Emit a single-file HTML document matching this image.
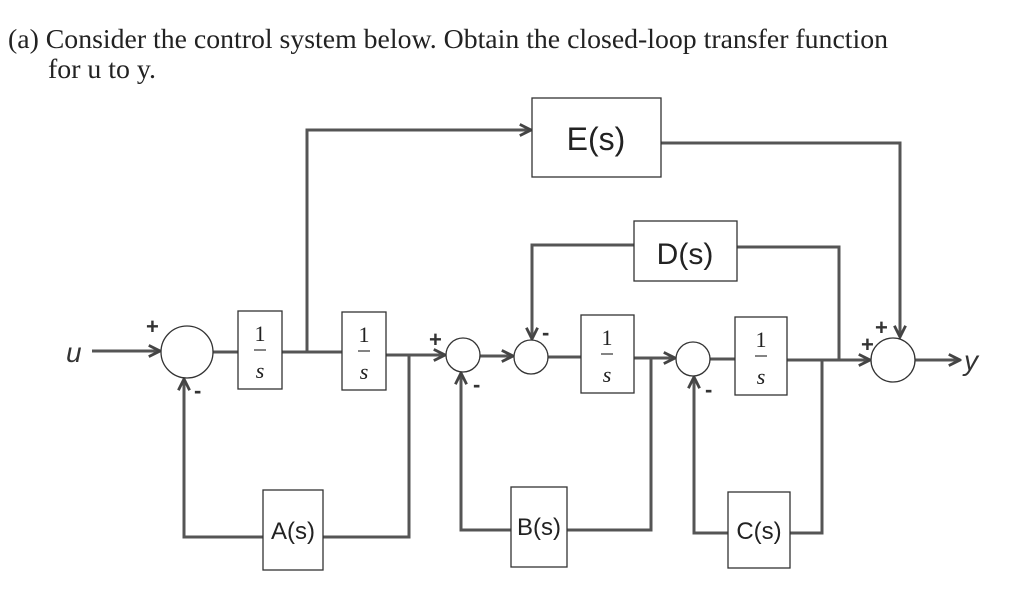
<!DOCTYPE html>
<html><head><meta charset="utf-8"><style>html,body{margin:0;padding:0;background:#fff}svg{display:block}</style></head>
<body>
<svg width="1024" height="599" viewBox="0 0 1024 599" xmlns="http://www.w3.org/2000/svg">
<defs>
<marker id="a" viewBox="0 0 10 10" refX="9" refY="5" markerWidth="14" markerHeight="14" orient="auto-start-reverse" markerUnits="userSpaceOnUse"><path d="M1,1 L9,5 L1,9" fill="none" stroke="#444" stroke-width="2"/></marker>
</defs>
<style>
.t{font-family:"Liberation Serif",serif;font-size:27px;fill:#222}
.l{stroke:#555;stroke-width:3;fill:none}
.b{stroke:#333;stroke-width:1.3;fill:#fff}
.c{stroke:#333;stroke-width:1.3;fill:#fff}
.s{font-family:"Liberation Sans",sans-serif;fill:#222}
.f{font-family:"Liberation Serif",serif;font-size:22px;fill:#222;text-anchor:middle}
.p{font-family:"Liberation Sans",sans-serif;font-size:22px;font-weight:bold;fill:#333}
</style>
<text class="t" x="8" y="48" textLength="880" lengthAdjust="spacingAndGlyphs">(a) Consider the control system below. Obtain the closed-loop transfer function</text>
<text class="t" x="48" y="78" textLength="108" lengthAdjust="spacingAndGlyphs">for u to y.</text>

<line class="l" x1="92" y1="351" x2="160" y2="351" marker-end="url(#a)"/>
<line class="l" x1="213" y1="352" x2="238" y2="352"/>
<line class="l" x1="282" y1="352" x2="342" y2="352"/>
<line class="l" x1="386" y1="355" x2="445" y2="355" marker-end="url(#a)"/>
<line class="l" x1="480" y1="356" x2="513" y2="356" marker-end="url(#a)"/>
<line class="l" x1="548" y1="357" x2="581" y2="357"/>
<line class="l" x1="634" y1="358" x2="675" y2="358" marker-end="url(#a)"/>
<line class="l" x1="710" y1="359" x2="735" y2="359"/>
<line class="l" x1="787" y1="360" x2="870" y2="360" marker-end="url(#a)"/>
<line class="l" x1="915" y1="360" x2="960" y2="360" marker-end="url(#a)"/>

<polyline class="l" points="307,352 307,130 531,130" marker-end="url(#a)"/>
<polyline class="l" points="661,143 900,143 900,337" marker-end="url(#a)"/>
<polyline class="l" points="839,360 839,247 737,247"/>
<polyline class="l" points="634,245 532,245 532,339" marker-end="url(#a)"/>
<polyline class="l" points="409,355 409,537 323,537"/>
<polyline class="l" points="263,537 184,537 184,379" marker-end="url(#a)"/>
<polyline class="l" points="651,358 651,530 567,530"/>
<polyline class="l" points="511,530 461,530 461,373" marker-end="url(#a)"/>
<polyline class="l" points="822,360 822,533 790,533"/>
<polyline class="l" points="728,533 694,533 694,377" marker-end="url(#a)"/>

<circle class="c" cx="187" cy="352" r="26"/>
<circle class="c" cx="463" cy="355" r="17"/>
<circle class="c" cx="531" cy="357" r="17"/>
<circle class="c" cx="693" cy="359" r="17"/>
<circle class="c" cx="893" cy="360" r="22"/>

<rect class="b" x="238" y="311" width="44" height="78"/>
<rect class="b" x="342" y="312" width="44" height="78"/>
<rect class="b" x="581" y="315" width="53" height="78"/>
<rect class="b" x="735" y="317" width="52" height="78"/>
<g class="f">
<text x="260" y="341">1</text><line x1="254" y1="350" x2="266" y2="350" stroke="#333" stroke-width="1.2"/><text x="260" y="378" font-style="italic">s</text>
<text x="364" y="342">1</text><line x1="358" y1="351" x2="370" y2="351" stroke="#333" stroke-width="1.2"/><text x="364" y="379" font-style="italic">s</text>
<text x="607" y="345">1</text><line x1="601" y1="354" x2="613" y2="354" stroke="#333" stroke-width="1.2"/><text x="607" y="382" font-style="italic">s</text>
<text x="761" y="347">1</text><line x1="755" y1="356" x2="767" y2="356" stroke="#333" stroke-width="1.2"/><text x="761" y="384" font-style="italic">s</text>
</g>
<rect class="b" x="532" y="98" width="129" height="79"/>
<text class="s" x="596" y="150" text-anchor="middle" style="font-size:32px">E(s)</text>
<rect class="b" x="634" y="221" width="103" height="60"/>
<text class="s" x="685" y="264" text-anchor="middle" style="font-size:30px">D(s)</text>
<rect class="b" x="263" y="490" width="60" height="80"/>
<text class="s" x="293" y="539" text-anchor="middle" style="font-size:24px">A(s)</text>
<rect class="b" x="511" y="487" width="56" height="80"/>
<text class="s" x="539" y="535" text-anchor="middle" style="font-size:24px">B(s)</text>
<rect class="b" x="728" y="492" width="62" height="76"/>
<text class="s" x="759" y="539" text-anchor="middle" style="font-size:24px">C(s)</text>

<text class="p" x="146" y="334">+</text>
<text class="p" x="194" y="398">-</text>
<text class="p" x="429" y="347">+</text>
<text class="p" x="473" y="392">-</text>
<text class="p" x="542" y="340">-</text>
<text class="p" x="705" y="397">-</text>
<text class="p" x="861" y="352">+</text>
<text class="p" x="875" y="335">+</text>
<text x="66" y="362" font-family="Liberation Sans,sans-serif" font-size="28" font-style="italic" fill="#333">u</text>
<text x="964" y="370" font-family="Liberation Sans,sans-serif" font-size="28" font-style="italic" fill="#333">y</text>
</svg>
</body></html>
